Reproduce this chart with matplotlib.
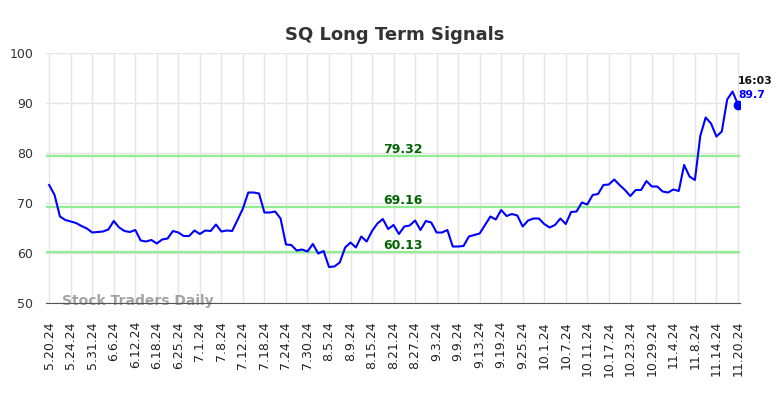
#!/usr/bin/env python3
"""SQ long term signals chart, redrawn from a static snapshot."""

import matplotlib

matplotlib.use("Agg")
import matplotlib.pyplot as plt
import numpy as np

TITLE = "SQ Long Term Signals"
TICKER_TIME = "16:03"
WATERMARK = "Stock Traders Daily"

# trading-day closes of the signal line, 5.20.24 .. 11.20.24
signal = [
    73.6, 71.6, 67.3, 66.6, 66.3, 66.0, 65.4, 64.9, 64.1, 64.2,
    64.3, 64.7, 66.4, 65.1, 64.4, 64.2, 64.6, 62.5, 62.3, 62.6,
    61.9, 62.7, 62.9, 64.4, 64.1, 63.4, 63.4, 64.5, 63.8, 64.5,
    64.4, 65.7, 64.3, 64.5, 64.4, 66.6, 68.9, 72.1, 72.1, 71.9,
    68.1, 68.1, 68.3, 66.9, 61.7, 61.6, 60.5, 60.7, 60.3, 61.8,
    59.9, 60.4, 57.2, 57.3, 58.1, 61.1, 62.1, 61.1, 63.3, 62.3,
    64.4, 65.9, 66.8, 64.8, 65.6, 63.8, 65.3, 65.5, 66.5, 64.6,
    66.4, 66.1, 64.1, 64.1, 64.6, 61.3, 61.3, 61.4, 63.3, 63.6,
    63.9, 65.6, 67.3, 66.7, 68.6, 67.4, 67.8, 67.5, 65.3, 66.5,
    66.9, 66.9, 65.8, 65.1, 65.6, 66.9, 65.8, 68.2, 68.3, 70.1,
    69.7, 71.6, 71.8, 73.6, 73.7, 74.7, 73.6, 72.6, 71.4, 72.6,
    72.6, 74.4, 73.3, 73.3, 72.3, 72.1, 72.7, 72.4, 77.6, 75.3,
    74.6, 83.4, 87.1, 85.9, 83.3, 84.3, 90.7, 92.3, 89.7,
]

tick_labels = [
    "5.20.24", "5.24.24", "5.31.24", "6.6.24", "6.12.24", "6.18.24",
    "6.25.24", "7.1.24", "7.8.24", "7.12.24", "7.18.24", "7.24.24",
    "7.30.24", "8.5.24", "8.9.24", "8.15.24", "8.21.24", "8.27.24",
    "9.3.24", "9.9.24", "9.13.24", "9.19.24", "9.25.24", "10.1.24",
    "10.7.24", "10.11.24", "10.17.24", "10.23.24", "10.29.24", "11.4.24",
    "11.8.24", "11.14.24", "11.20.24",
]
TICK_STEP = 4

levels = [79.32, 69.16, 60.13]


def main() -> int:
    y = np.asarray(signal)
    x = np.arange(len(y))

    fig = plt.figure(figsize=(7.84, 3.98), dpi=100)
    ax = fig.add_axes([0.0593, 0.2387, 0.8847, 0.6281])

    ax.set_xlim(-0.5, len(y) - 0.6)
    ax.set_ylim(50, 100)
    ax.set_yticks(np.arange(50, 101, 10))
    ax.set_xticks(x[::TICK_STEP])
    ax.set_xticklabels(tick_labels, rotation=90, fontsize=9, color="#222222")
    ax.tick_params(axis="x", length=0, pad=13)
    ax.tick_params(axis="y", length=0, pad=9.5, labelsize=9, labelcolor="#333333")
    ax.grid(True, color="#e5e5e5", lw=1)
    ax.set_axisbelow(True)
    for side in ("left", "right", "top"):
        ax.spines[side].set_visible(False)
    ax.spines["bottom"].set_color("#555555")

    label_x = 65.8
    for lv in levels:
        ax.axhline(lv, color="#90ee90", lw=1.6, zorder=2)
        ax.text(label_x, lv, f"{lv:.2f}", ha="center", va="bottom",
                fontsize=9, fontweight="bold", color="#006400", zorder=4)

    ax.plot(x, y, color="#0000ff", lw=1.5, zorder=3)
    ax.plot(x[-1], y[-1], "o", color="#0000ff", ms=6, zorder=4)
    ax.annotate(TICKER_TIME, (x[-1], y[-1]), xytext=(0, 17), textcoords="offset points",
                ha="left", va="center", fontsize=7.8, fontweight="bold", color="#111111")
    ax.annotate(f"{y[-1]:.1f}", (x[-1], y[-1]), xytext=(0, 7), textcoords="offset points",
                ha="left", va="center", fontsize=7.8, fontweight="bold", color="#0000ff")

    ax.text(2.3, 50.3, WATERMARK, ha="left", va="center", fontsize=10,
            fontweight="bold", color="#999999", alpha=0.9, zorder=1)

    fig.suptitle(TITLE, x=0.504, y=0.935, fontsize=13, fontweight="bold", color="#333333")
    fig.savefig("out.png", dpi=100)
    plt.close(fig)
    return 0


if __name__ == "__main__":
    raise SystemExit(main())
